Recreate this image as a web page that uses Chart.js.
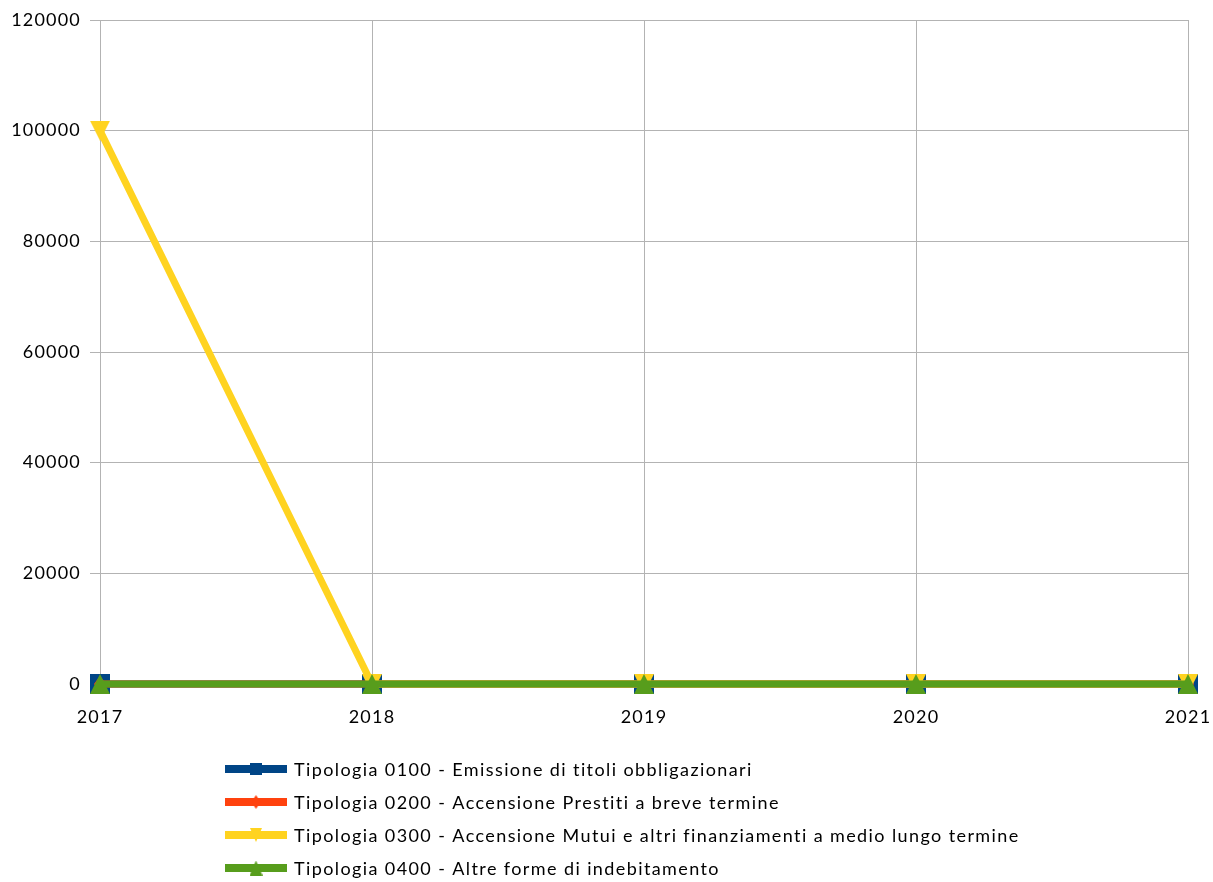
<!DOCTYPE html>
<html>
<head>
<meta charset="utf-8">
<script src="https://cdn.jsdelivr.net/npm/chart.js@4"></script>
<style>
html,body{margin:0;padding:0;background:#fff;}
#wrap{width:1213px;height:882px;position:relative;}
</style>
</head>
<body>
<div id="wrap"><canvas id="c" width="1213" height="882"></canvas></div>
<script>
const years = ['2017', '2018', '2019', '2020', '2021'];
const seriesNames = [
  'Tipologia 0100 - Emissione di titoli obbligazionari',
  'Tipologia 0200 - Accensione Prestiti a breve termine',
  'Tipologia 0300 - Accensione Mutui e altri finanziamenti a medio lungo termine',
  'Tipologia 0400 - Altre forme di indebitamento'
];
const tipologia0100 = [0, 0, 0, 0, 0];
const tipologia0200 = [0, 0, 0, 0, 0];
const tipologia0300 = [100000, 0, 0, 0, 0];
const tipologia0400 = [0, 0, 0, 0, 0];
const yTicks = [0, 20000, 40000, 60000, 80000, 100000, 120000];

const FONT = 'Lato, "Liberation Sans", sans-serif';
const SPACING = '1.2px';
const LEG_SPACING = '1.4px';

function makeMarker(shape, w, h, color) {
  const c = document.createElement('canvas');
  c.width = w; c.height = h;
  const g = c.getContext('2d');
  g.fillStyle = color;
  g.beginPath();
  if (shape === 'square') {
    g.rect(0, 0, w, h);
  } else if (shape === 'up') {
    g.moveTo(w / 2, 0); g.lineTo(w, h); g.lineTo(0, h);
  } else if (shape === 'down') {
    g.moveTo(0, 0); g.lineTo(w, 0); g.lineTo(w / 2, h);
  } else if (shape === 'diamond') {
    g.moveTo(w / 2, 0); g.lineTo(w, h / 2); g.lineTo(w / 2, h); g.lineTo(0, h / 2);
  }
  g.closePath();
  g.fill();
  return c;
}

const styles = [
  {color:'#004586', shape:'square', size:[20,20], lsize:[12,12], order:4},
  {color:'#ff420e', shape:'diamond', size:[12,16], lsize:[9,14], order:3},
  {color:'#ffd320', shape:'down', size:[20,20], lsize:[12,14], order:2},
  {color:'#579d1c', shape:'up', size:[20,20], lsize:[13,15], order:1}
];
const values = [tipologia0100, tipologia0200, tipologia0300, tipologia0400];

const datasets = values.map((v, i) => ({
  label: seriesNames[i],
  data: v,
  borderColor: styles[i].color,
  backgroundColor: styles[i].color,
  borderWidth: 7,
  pointStyle: makeMarker(styles[i].shape, styles[i].size[0], styles[i].size[1], styles[i].color),
  pointRadius: 10,
  pointBorderWidth: 0,
  pointBackgroundColor: styles[i].color,
  tension: 0,
  clip: false,
  order: styles[i].order
}));

const legendMarkers = styles.map(s => makeMarker(s.shape, s.lsize[0], s.lsize[1], s.color));

const spacingPlugin = {
  id: 'spacing',
  beforeInit(chart) { chart.ctx.letterSpacing = SPACING; },
  beforeUpdate(chart) { chart.ctx.letterSpacing = SPACING; },
  beforeDraw(chart) { chart.ctx.letterSpacing = SPACING; }
};

const legendPlugin = {
  id: 'colLegend',
  afterDraw(chart) {
    const ctx = chart.ctx;
    ctx.save();
    ctx.letterSpacing = LEG_SPACING;
    ctx.font = '18px ' + FONT;
    ctx.textBaseline = 'middle';
    ctx.textAlign = 'left';
    chart.data.datasets.forEach((ds, i) => {
      const y = 769 + i * 33;
      const x0 = 225, x1 = 287;
      ctx.strokeStyle = ds.borderColor;
      ctx.lineWidth = 8;
      ctx.beginPath();
      ctx.moveTo(x0, y);
      ctx.lineTo(x1, y);
      ctx.stroke();
      Chart.helpers.drawPoint(ctx, {pointStyle: legendMarkers[i], rotation: 0, borderWidth: 0, radius: 6}, (x0 + x1) / 2, y);
      ctx.fillStyle = '#000';
      ctx.fillText(ds.label, 294, y + 1);
    });
    ctx.restore();
  }
};

new Chart(document.getElementById('c'), {
  type: 'line',
  data: { labels: years, datasets: datasets },
  options: {
    responsive: false,
    animation: false,
    devicePixelRatio: 1,
    layout: { padding: { top: 20, right: 25, bottom: 150, left: 0 } },
    plugins: { legend: { display: false }, tooltip: { enabled: false } },
    scales: {
      x: {
        offset: false,
        grid: { color: '#b3b3b3', lineWidth: 1, tickLength: 10 },
        border: { color: '#b3b3b3' },
        ticks: { color: '#000', font: { family: FONT, size: 18 }, padding: 12, maxRotation: 0 },
        afterFit(scale) { scale.height = 48; scale.paddingLeft = 0; scale.paddingRight = 0; }
      },
      y: {
        min: 0, max: 120000,
        afterBuildTicks(scale) { scale.ticks = yTicks.map(v => ({value: v})); },
        grid: { color: '#b3b3b3', lineWidth: 1, tickLength: 10 },
        border: { color: '#b3b3b3' },
        ticks: { color: '#000', font: { family: FONT, size: 18 }, padding: 9,
                 callback: (v) => String(v) },
        afterFit(scale) { scale.width = 100; scale.paddingTop = 0; scale.paddingBottom = 0; }
      }
    }
  },
  plugins: [spacingPlugin, legendPlugin]
});
</script>
</body>
</html>
